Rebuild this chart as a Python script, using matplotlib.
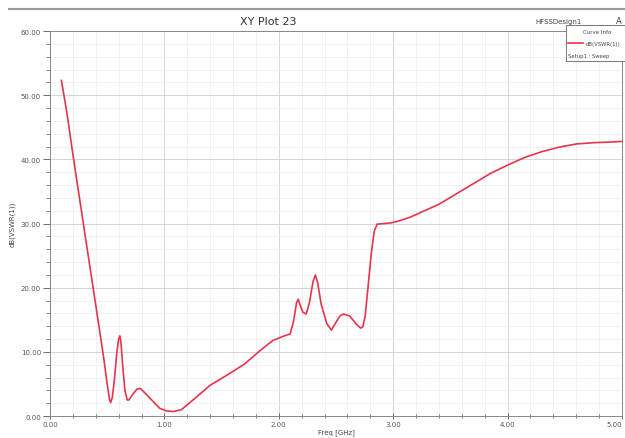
import matplotlib.pyplot as plt
from matplotlib.ticker import MultipleLocator, FormatStrFormatter
from matplotlib.lines import Line2D

# sweep: frequency (GHz) vs dB(VSWR(1))
freq = [0.10, 0.15, 0.20, 0.30, 0.40, 0.47, 0.50, 0.52, 0.53, 0.545, 0.565, 0.585,
        0.60, 0.61, 0.62, 0.635, 0.655, 0.675, 0.69, 0.72, 0.76, 0.79, 0.83, 0.90,
        0.96, 1.02, 1.08, 1.15, 1.25, 1.40, 1.55, 1.70, 1.85, 1.95, 2.05, 2.10,
        2.13, 2.155, 2.17, 2.185, 2.21, 2.24, 2.27, 2.30, 2.32, 2.34, 2.37, 2.42,
        2.46, 2.50, 2.535, 2.565, 2.62, 2.68, 2.715, 2.735, 2.755, 2.78, 2.81, 2.835,
        2.86, 2.92, 2.98, 3.05, 3.15, 3.25, 3.40, 3.55, 3.70, 3.85, 4.00, 4.15,
        4.30, 4.45, 4.60, 4.75, 4.90, 5.00]
vswr_db = [52.3, 47.0, 40.8, 29.0, 17.3, 9.0, 5.0, 2.6, 2.1, 2.9, 6.0, 10.0,
           12.0, 12.5, 11.6, 8.0, 4.0, 2.5, 2.5, 3.3, 4.2, 4.3, 3.6, 2.3,
           1.2, 0.8, 0.7, 1.0, 2.5, 4.8, 6.4, 8.1, 10.4, 11.8, 12.5, 12.8,
           14.8, 17.6, 18.2, 17.4, 16.2, 15.9, 17.8, 21.0, 22.0, 20.8, 17.5, 14.4,
           13.4, 14.6, 15.6, 15.9, 15.6, 14.3, 13.7, 13.9, 15.5, 20.0, 25.5, 28.8,
           29.9, 30.0, 30.1, 30.4, 31.0, 31.8, 33.0, 34.6, 36.2, 37.8, 39.1, 40.3,
           41.2, 41.9, 42.4, 42.6, 42.7, 42.8]

curve_name = 'dB(VSWR(1))'
setup_name = 'Setup1 : Sweep'

fig = plt.figure(figsize=(6.25, 4.39), dpi=100)
ax = fig.add_axes([0.08, 0.05, 0.915, 0.877])

ax.plot(freq, vswr_db, color='#e6344c', lw=1.2)

ax.set_xlim(0, 5)
ax.set_ylim(0, 60)
ax.xaxis.set_major_locator(MultipleLocator(1))
ax.xaxis.set_minor_locator(MultipleLocator(0.2))
ax.yaxis.set_major_locator(MultipleLocator(10))
ax.yaxis.set_minor_locator(MultipleLocator(2))
ax.xaxis.set_major_formatter(FormatStrFormatter('%.2f'))
ax.yaxis.set_major_formatter(FormatStrFormatter('%.2f'))
ax.tick_params(which='both', labelsize=5, colors='#555555')
ax.tick_params(axis='y', which='major', direction='out', length=5, width=0.6, pad=1.5)
ax.tick_params(axis='y', which='minor', direction='out', length=3, width=0.5)
ax.tick_params(axis='x', which='major', direction='inout', length=5, width=0.6, pad=1)
ax.tick_params(axis='x', which='minor', direction='inout', length=3, width=0.5)

ax.grid(which='major', color='#cfcfcf', lw=0.6)
ax.grid(which='minor', color='#ececec', lw=0.5)
ax.set_axisbelow(True)
for s in ax.spines.values():
    s.set_color('#888888')
    s.set_linewidth(0.7)

ax.set_xlabel('Freq [GHz]', fontsize=5, color='#444444', labelpad=1)
ax.set_ylabel(curve_name, fontsize=5, color='#444444', labelpad=4)

# header strip
fig.add_artist(Line2D([0.015, 1.0], [0.977, 0.977], color='#9a9a9a', lw=1.5))
fig.text(0.43, 0.951, 'XY Plot 23', fontsize=8, ha='center', va='center', color='#333333')
fig.text(0.857, 0.951, 'HFSSDesign1', fontsize=5, ha='left', va='center', color='#444444')
fig.text(0.985, 0.951, 'A', fontsize=6, ha='left', va='center', color='#444444')

# curve info box
box = fig.add_axes([0.905, 0.858, 0.1, 0.082])
box.set_xlim(0, 1)
box.set_ylim(0, 3)
box.set_xticks([])
box.set_yticks([])
for s in box.spines.values():
    s.set_color('#777777')
    s.set_linewidth(0.7)
box.text(0.5, 2.5, 'Curve Info', fontsize=4, ha='center', va='center', color='#444444')
box.plot([0.04, 0.28], [1.5, 1.5], color='#e6344c', lw=1.2)
box.text(0.32, 1.5, curve_name, fontsize=3.8, ha='left', va='center', color='#444444')
box.text(0.04, 0.5, setup_name, fontsize=3.8, ha='left', va='center', color='#444444')

# keep the last frequency label inside the figure
fig.canvas.draw()
last = [t for t in ax.xaxis.get_major_ticks() if abs(t.get_loc() - 5.0) < 1e-9]
for t in last:
    t.label1.set_horizontalalignment('right')

fig.savefig('out.png', dpi=100, facecolor='white')
